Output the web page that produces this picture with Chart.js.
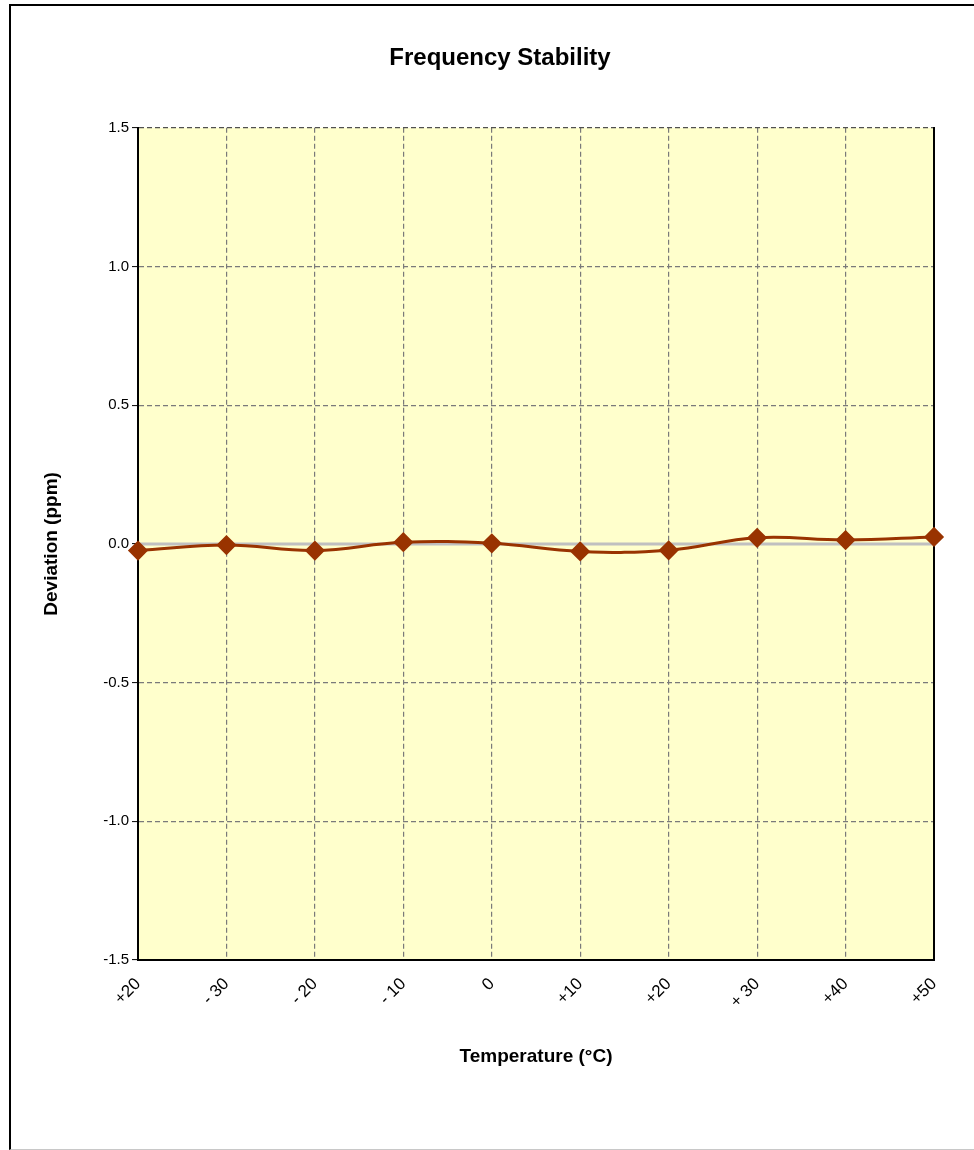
<!DOCTYPE html>
<html>
<head>
<meta charset="utf-8">
<script src="https://cdn.jsdelivr.net/npm/chart.js@4/dist/chart.umd.min.js"></script>
<style>
  html, body { margin: 0; padding: 0; background: #fff; }
  #wrap { position: relative; width: 974px; height: 1150px; overflow: hidden; }
  #c { position: absolute; left: 0; top: 0; }
  #frame {
    position: absolute; left: 9px; top: 4px; width: 965px; height: 1146px;
    box-sizing: border-box; pointer-events: none;
    border-top: 2px solid #000; border-left: 2px solid #000; border-bottom: 1px solid #c8c8c8;
  }
</style>
</head>
<body>
<div id="wrap">
  <canvas id="c" width="974" height="1150"></canvas>
  <div id="frame"></div>
</div>
<script>
// data
const temperatures = ['+20', '- 30', '- 20', '- 10', '0', '+10', '+20', '+ 30', '+40', '+50'];
const deviation = [-0.024, -0.004, -0.024, 0.006, 0.002, -0.027, -0.023, 0.022, 0.014, 0.025];
const zeroLine = temperatures.map(() => 0);
const yTicks = [-1.5, -1.0, -0.5, 0.0, 0.5, 1.0, 1.5];

const FONT = '"Liberation Sans", Arial, sans-serif';

// pale yellow plot area
const plotBg = {
  id: 'plotBg',
  beforeDraw(chart) {
    const { ctx, chartArea: a } = chart;
    ctx.save();
    ctx.fillStyle = '#FFFFCC';
    ctx.fillRect(a.left, a.top, a.right - a.left, a.bottom - a.top);
    ctx.restore();
  }
};

new Chart(document.getElementById('c'), {
  type: 'line',
  data: {
    labels: temperatures,
    datasets: [
      { label: 'Deviation', data: deviation, order: 1, clip: false,
        borderColor: '#993300', borderWidth: 3, tension: 0.4,
        pointStyle: 'rectRot', pointRadius: 8, pointBackgroundColor: '#993300', pointBorderColor: '#993300' },
      { label: 'zero', data: zeroLine, order: 2,
        borderColor: '#c0c0c0', borderWidth: 3, pointRadius: 0, tension: 0 }
    ]
  },
  options: {
    responsive: false,
    animation: false,
    layout: { padding: { left: 26, right: 0, top: 0, bottom: 0 } },
    plugins: {
      legend: { display: false },
      tooltip: { enabled: false },
      title: {
        display: true, text: 'Frequency Stability', color: '#000',
        font: { family: FONT, size: 24, weight: 'bold' },
        padding: { top: 44, bottom: 55 }
      }
    },
    scales: {
      x: {
        type: 'category', offset: false,
        grid: { offset: false, drawTicks: false,
          color: c => (c.index === 0 ? 'rgba(0,0,0,0)' : '#7a7a7a'), lineWidth: 1.2 },
        border: { color: '#000', width: 2, dash: [5, 3] },
        ticks: { color: '#000', font: { family: FONT, size: 17 }, minRotation: 45, maxRotation: 45, padding: 14 },
        title: { display: true, text: 'Temperature (°C)', color: '#000',
          font: { family: FONT, size: 19, weight: 'bold' }, padding: { top: 0, bottom: 82 } },
        afterFit: s => { s.height = 190; }
      },
      y: {
        min: -1.5, max: 1.5,
        afterBuildTicks: s => { s.ticks = yTicks.map(v => ({ value: v })); },
        grid: {
          color: c => (c.tick && c.tick.value === 0 ? 'rgba(0,0,0,0)' : (c.tick && c.tick.value === 1.5 ? '#505050' : '#7a7a7a')),
          lineWidth: 1.2, tickLength: 6, tickColor: '#000', tickWidth: 1, tickBorderDash: []
        },
        border: { color: '#000', width: 2, dash: [5, 3] },
        ticks: { color: '#000', font: { family: FONT, size: 15 }, padding: 3,
          callback: v => Number(v).toFixed(1) },
        title: { display: true, text: 'Deviation (ppm)', color: '#000',
          font: { family: FONT, size: 19, weight: 'bold' }, padding: { top: 14, bottom: 0 } },
        afterFit: s => { s.width = 112; }
      },
      y2: {
        position: 'right', min: -1.5, max: 1.5,
        grid: { drawOnChartArea: false, drawTicks: false },
        border: { color: '#000', width: 2 },
        ticks: { display: false },
        afterFit: s => { s.width = 40; }
      }
    }
  },
  plugins: [plotBg]
});
</script>
</body>
</html>
